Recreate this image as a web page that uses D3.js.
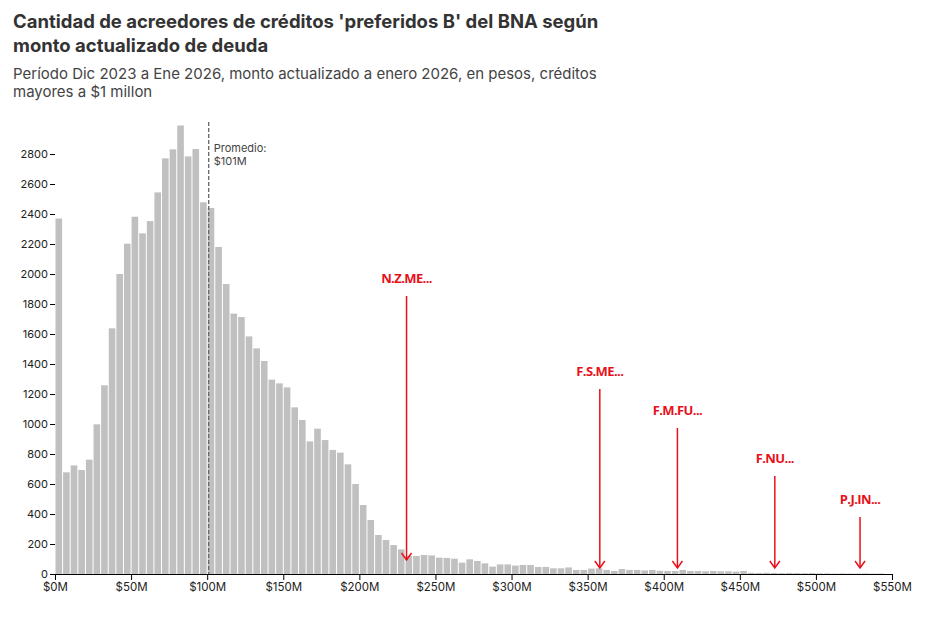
<!DOCTYPE html>
<html><head><meta charset="utf-8">
<script src="https://cdn.jsdelivr.net/npm/d3@7"></script>
<style>body{margin:0;background:#fff;font-family:Inter,"Noto Sans",sans-serif}</style>
</head><body><div id="chart"></div>
<script>
// bins of $5M, starting at $0M
var binWidth = 5;
var counts = [2370,678,724,693,762,998,1258,1638,2000,2202,2382,2271,2353,2544,2771,2831,2990,2784,2833,2478,
  2440,2180,1933,1736,1713,1584,1504,1420,1296,1271,1244,1111,1027,884,969,893,827,809,731,600,
  460,360,260,227,193,164,120,120,127,124,109,107,102,76,98,87,71,49,64,64,
  56,60,60,47,47,38,38,44,27,27,36,38,27,20,33,27,27,24,27,22,
  20,20,27,20,20,18,20,18,18,16,20,8,7,8,7,6,7,6,5,6,
  4,4,3,4,3,3,4,3,3];
var yTicks = d3.range(0, 2801, 200);
var xTicks = d3.range(0, 551, 50);
var mean = 101;
var notes = ["N.Z.ME...", "F.S.ME...", "F.M.FU...", "F.NU...", "P.J.IN..."];
var noteAmount = [231, 358, 409, 473, 529];
var noteLevel = [1940, 1320, 1060, 740, 467];

var W = 936, H = 618;
var svg = d3.select("#chart").append("svg").attr("width", W).attr("height", H);

var x = d3.scaleLinear().domain([0, 550]).range([55, 892]);
var y = d3.scaleLinear().domain([0, 3000]).range([574, 124]);

svg.append("text").attr("x", 13).attr("y", 28).attr("font-size", 18.5).attr("font-weight", 700).attr("fill", "#333")
  .text("Cantidad de acreedores de créditos 'preferidos B' del BNA según");
svg.append("text").attr("x", 13).attr("y", 52).attr("font-size", 18.5).attr("font-weight", 700).attr("fill", "#333")
  .text("monto actualizado de deuda");
svg.append("text").attr("x", 13).attr("y", 79).attr("font-size", 15).attr("fill", "#444")
  .text("Período Dic 2023 a Ene 2026, monto actualizado a enero 2026, en pesos, créditos");
svg.append("text").attr("x", 13).attr("y", 97).attr("font-size", 15).attr("fill", "#444")
  .text("mayores a $1 millon");

svg.append("g").selectAll("rect").data(counts).enter().append("rect")
  .attr("x", function (d, i) { return x(i * binWidth) + 0.5; })
  .attr("width", function (d, i) { return x((i + 1) * binWidth) - x(i * binWidth) - 1; })
  .attr("y", function (d) { return y(d); })
  .attr("height", function (d) { return y(0) - y(d); })
  .attr("fill", "#c0c0c0");

var yAxis = svg.append("g").attr("transform", "translate(55,0)")
  .call(d3.axisLeft(y).tickValues(yTicks).tickSize(5).tickPadding(2).tickFormat(d3.format("d")));
yAxis.select(".domain").remove();
yAxis.selectAll("text").attr("font-size", 11).attr("fill", "#222").attr("font-family", "Inter,sans-serif");

var xAxis = svg.append("g").attr("transform", "translate(0,574)")
  .call(d3.axisBottom(x).tickValues(xTicks).tickSize(6).tickSizeOuter(0).tickFormat(function (d) { return "$" + d + "M"; }));
xAxis.selectAll("text").attr("font-size", 11.5).attr("fill", "#222").attr("font-family", "Inter,sans-serif");

svg.append("line").attr("x1", x(mean)).attr("x2", x(mean)).attr("y1", 122).attr("y2", 574)
  .attr("stroke", "#666").attr("stroke-width", 1.3).attr("stroke-dasharray", "4,2");
svg.append("text").attr("x", x(mean) + 5).attr("y", 152).attr("font-size", 11).attr("fill", "#444").text("Promedio:");
svg.append("text").attr("x", x(mean) + 5).attr("y", 165).attr("font-size", 11).attr("fill", "#444").text("$" + mean + "M");

var ann = svg.append("g").selectAll("g").data(notes).enter().append("g");
ann.append("text")
  .attr("x", function (d, i) { return x(noteAmount[i]); })
  .attr("y", function (d, i) { return y(noteLevel[i]); })
  .attr("text-anchor", "middle").attr("font-size", 13).attr("font-weight", 700)
  .attr("font-family", "'Open Sans',sans-serif").attr("letter-spacing", -0.6).attr("fill", "#e8101a")
  .text(function (d) { return d; });
function endY(i) {
  var v = counts[Math.floor(noteAmount[i] / binWidth)];
  return Math.min(y(v) + 4, y(0) - 6);
}
ann.append("line")
  .attr("x1", function (d, i) { return x(noteAmount[i]); })
  .attr("x2", function (d, i) { return x(noteAmount[i]); })
  .attr("y1", function (d, i) { return y(noteLevel[i]) + 13; })
  .attr("y2", function (d, i) { return endY(i); })
  .attr("stroke", "#e8101a").attr("stroke-width", 1.5);
ann.append("path")
  .attr("d", function (d, i) { var cx = x(noteAmount[i]), cy = endY(i); return "M" + (cx - 5) + "," + (cy - 7) + "L" + cx + "," + cy + "L" + (cx + 5) + "," + (cy - 7); })
  .attr("fill", "none").attr("stroke", "#e8101a").attr("stroke-width", 1.5);
</script></body></html>
